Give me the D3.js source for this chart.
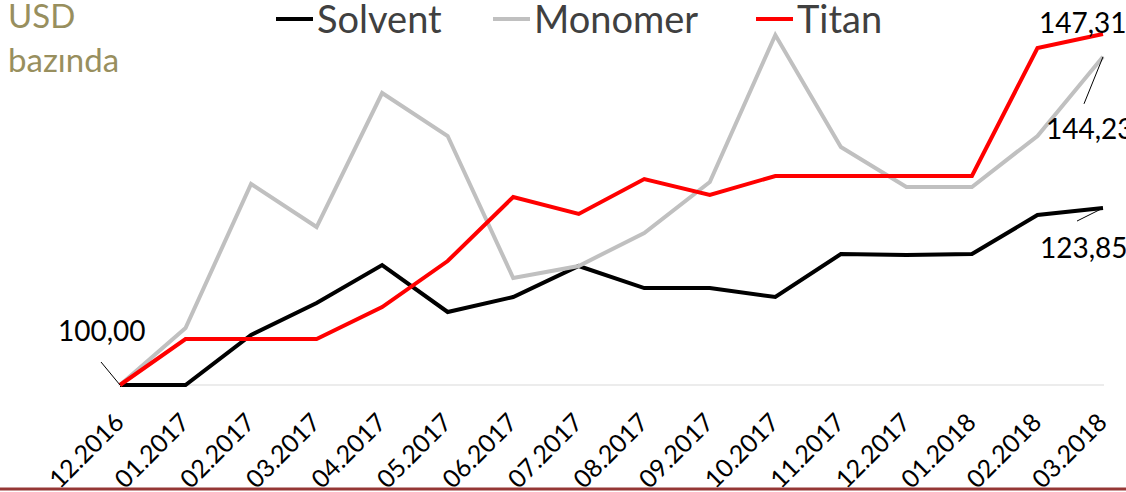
<!DOCTYPE html>
<html>
<head>
<meta charset="utf-8">
<script src="https://cdn.jsdelivr.net/npm/d3@7"></script>
<style>
  body { margin: 0; background: #fff; }
  svg { display: block; font-family: Lato, "Open Sans", sans-serif; }
</style>
</head>
<body>
<div id="main"></div>
<script>
var width = 1126;
var height = 492;

// months (x axis)
var months = ["12.2016","01.2017","02.2017","03.2017","04.2017","05.2017","06.2017","07.2017",
              "08.2017","09.2017","10.2017","11.2017","12.2017","01.2018","02.2018","03.2018"];

// index values, USD based, 12.2016 = 100
var solvent = [100, 100, 106.74, 111.05, 116.17, 109.84, 111.86, 116.04,
               113.07, 113.07, 111.86, 117.65, 117.52, 117.65, 122.91, 123.85];
var monomer = [100, 107.68, 127.09, 121.29, 139.35, 133.56, 114.42, 116.04,
               120.49, 127.36, 147.17, 132.08, 126.68, 126.68, 133.56, 144.23];
var titan   = [100, 106.2, 106.2, 106.2, 110.51, 116.71, 125.34, 123.05,
               127.76, 125.61, 128.17, 128.17, 128.17, 128.17, 145.42, 147.31];

var seriesNames = ["Solvent", "Monomer", "Titan"];
var seriesColors = ["#000000", "#C0C0C0", "#FF0000"];
var yDomain = [100, 150];

var series = [solvent, monomer, titan];

function fmt(v){ return v.toFixed(2).replace(".", ","); }

function init(){
  var svg = d3.select("#main")
    .append("svg")
    .attr("width", width)
    .attr("height", height);

  var x = d3.scalePoint()
    .domain(months)
    .range([120, 1103]);

  var y = d3.scaleLinear()
    .domain(yDomain)
    .range([385, 14]);

  // baseline gridline
  svg.append("line")
    .attr("x1", x(months[0]) - 2)
    .attr("x2", x(months[months.length-1]) + 1)
    .attr("y1", y(yDomain[0]))
    .attr("y2", y(yDomain[0]))
    .attr("stroke", "#D9D9D9")
    .attr("stroke-width", 1.2);

  // x axis, rotated labels
  var xAxis = svg.append("g")
    .attr("transform", "translate(0,424)")
    .call(d3.axisBottom(x).tickSize(0).tickPadding(0));
  xAxis.select(".domain").remove();
  xAxis.selectAll("text")
    .attr("font-family", "Lato, sans-serif")
    .attr("font-size", 25)
    .attr("fill", "#000")
    .attr("dy", 0)
    .attr("y", 0)
    .attr("x", 0)
    .attr("text-anchor", "end")
    .attr("transform", "translate(5,0) rotate(-45)");

  var line = d3.line()
    .x(function(d, i){ return x(months[i]); })
    .y(function(d){ return y(d); });

  svg.selectAll(".series")
    .data(series)
    .enter()
    .append("path")
    .attr("class", "series")
    .attr("d", line)
    .attr("fill", "none")
    .attr("stroke", function(d, i){ return seriesColors[i]; })
    .attr("stroke-width", 4)
    .attr("stroke-linejoin", "miter");

  // data labels with leader lines
  var last = months.length - 1;
  var labels = [
    {v: solvent[0], i: 0, dx: -62, dy: -44, lx1: -19, ly1: -23},
    {v: titan[last], i: last, dx: -64, dy: -1, lx1: null},
    {v: monomer[last], i: last, dx: -57, dy: 82, lx1: -19, ly1: 47},
    {v: solvent[last], i: last, dx: -63, dy: 50, lx1: -26, ly1: 13}
  ];
  labels.forEach(function(l){
    var px = x(months[l.i]), py = y(l.v);
    if(l.lx1 !== null){
      svg.append("line")
        .attr("x1", px + l.lx1).attr("y1", py + l.ly1)
        .attr("x2", px).attr("y2", py)
        .attr("stroke", "#000").attr("stroke-width", 1);
    }
    svg.append("text")
      .attr("x", px + l.dx)
      .attr("y", py + l.dy)
      .attr("font-size", 28)
      .attr("fill", "#000")
      .text(fmt(l.v));
  });

  // legend
  var legX = [276, 493, 756];
  var legend = svg.selectAll(".leg")
    .data(seriesNames)
    .enter()
    .append("g")
    .attr("class", "leg")
    .attr("transform", function(d, i){ return "translate(" + legX[i] + ",19)"; });
  legend.append("line")
    .attr("x1", 0).attr("x2", 37)
    .attr("stroke", function(d, i){ return seriesColors[i]; })
    .attr("stroke-width", 4);
  legend.append("text")
    .attr("x", 41)
    .attr("y", 14)
    .attr("font-size", 38)
    .attr("fill", "#404040")
    .text(function(d){ return d; });

  // unit note
  var note = svg.append("text")
    .attr("font-size", 33)
    .attr("fill", "#988F5E");
  note.append("tspan").attr("x", 8).attr("y", 28).text("USD");
  note.append("tspan").attr("x", 8).attr("y", 72).text("bazında");

  // bottom rule
  svg.append("line")
    .attr("x1", 0).attr("x2", width)
    .attr("y1", 489).attr("y2", 489)
    .attr("stroke", "#953735")
    .attr("stroke-width", 3);
}
init();
</script>
</body>
</html>
